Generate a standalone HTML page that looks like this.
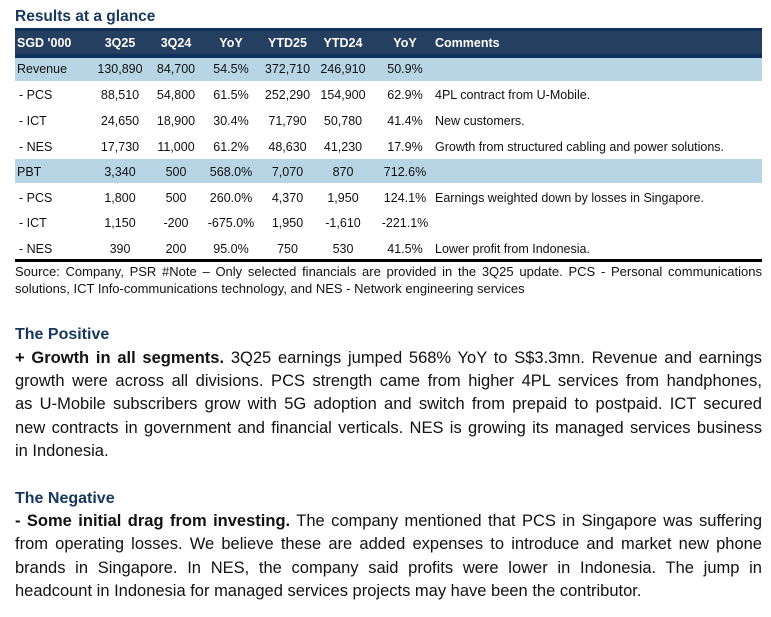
<!DOCTYPE html>
<html><head><meta charset="utf-8">
<style>
html,body{margin:0;padding:0;background:#fff;}
body{width:771px;height:617px;position:relative;overflow:hidden;font-family:"Liberation Sans",Arial,sans-serif;color:#111;}
.abs{position:absolute;}
.title{left:15px;top:9px;font-size:15.5px;font-weight:bold;color:#17375e;line-height:16px;white-space:nowrap;}
.hdr{left:15px;top:28px;width:747px;height:30px;background:#243f60;border-top:3px solid #0f2f5d;border-bottom:4px solid #0f2f5d;box-sizing:border-box;}
.band{left:15px;width:747px;background:#b8d5e6;}
.row{position:absolute;left:0;width:771px;height:24px;line-height:24px;font-size:12.5px;white-space:nowrap;}
.row span{position:absolute;top:0;}
.c{transform:translateX(-50%);}
.hrow{color:#fff;font-weight:bold;}
.rule{left:15px;top:259px;width:747px;height:3px;background:#000;}
.src{left:15px;width:747px;font-size:13px;line-height:17px;}
.j{text-align:justify;text-align-last:justify;}
.body{left:15px;width:747px;font-size:16.5px;line-height:23.33px;}
.body div{height:23.33px;}
.h{font-weight:bold;color:#17375e;font-size:16px;}
</style></head><body>

<div class="abs title">Results at a glance</div>
<div class="abs hdr"></div>
<div class="abs band" style="top:58px;height:23px;"></div>
<div class="abs band" style="top:159px;height:24px;"></div>

<div class="row hrow" style="top:31px;">
  <span style="left:17px;">SGD '000</span>
  <span class="c" style="left:120px;">3Q25</span>
  <span class="c" style="left:176px;">3Q24</span>
  <span class="c" style="left:231px;">YoY</span>
  <span class="c" style="left:287.5px;">YTD25</span>
  <span class="c" style="left:343px;">YTD24</span>
  <span class="c" style="left:405px;">YoY</span>
  <span style="left:435px;">Comments</span>
</div>

<div class="row" style="top:57px;">
  <span style="left:17px;">Revenue</span>
  <span class="c" style="left:120px;">130,890</span>
  <span class="c" style="left:176px;">84,700</span>
  <span class="c" style="left:231px;">54.5%</span>
  <span class="c" style="left:287.5px;">372,710</span>
  <span class="c" style="left:343px;">246,910</span>
  <span class="c" style="left:405px;">50.9%</span>
</div>
<div class="row" style="top:83px;">
  <span style="left:19px;">- PCS</span>
  <span class="c" style="left:120px;">88,510</span>
  <span class="c" style="left:176px;">54,800</span>
  <span class="c" style="left:231px;">61.5%</span>
  <span class="c" style="left:287.5px;">252,290</span>
  <span class="c" style="left:343px;">154,900</span>
  <span class="c" style="left:405px;">62.9%</span>
  <span style="left:435px;">4PL contract from U-Mobile.</span>
</div>
<div class="row" style="top:108.7px;">
  <span style="left:19px;">- ICT</span>
  <span class="c" style="left:120px;">24,650</span>
  <span class="c" style="left:176px;">18,900</span>
  <span class="c" style="left:231px;">30.4%</span>
  <span class="c" style="left:287.5px;">71,790</span>
  <span class="c" style="left:343px;">50,780</span>
  <span class="c" style="left:405px;">41.4%</span>
  <span style="left:435px;">New customers.</span>
</div>
<div class="row" style="top:134.7px;">
  <span style="left:19px;">- NES</span>
  <span class="c" style="left:120px;">17,730</span>
  <span class="c" style="left:176px;">11,000</span>
  <span class="c" style="left:231px;">61.2%</span>
  <span class="c" style="left:287.5px;">48,630</span>
  <span class="c" style="left:343px;">41,230</span>
  <span class="c" style="left:405px;">17.9%</span>
  <span style="left:435px;">Growth from structured cabling and power solutions.</span>
</div>
<div class="row" style="top:159.5px;">
  <span style="left:17px;">PBT</span>
  <span class="c" style="left:120px;">3,340</span>
  <span class="c" style="left:176px;">500</span>
  <span class="c" style="left:231px;">568.0%</span>
  <span class="c" style="left:287.5px;">7,070</span>
  <span class="c" style="left:343px;">870</span>
  <span class="c" style="left:405px;">712.6%</span>
</div>
<div class="row" style="top:186px;">
  <span style="left:19px;">- PCS</span>
  <span class="c" style="left:120px;">1,800</span>
  <span class="c" style="left:176px;">500</span>
  <span class="c" style="left:231px;">260.0%</span>
  <span class="c" style="left:287.5px;">4,370</span>
  <span class="c" style="left:343px;">1,950</span>
  <span class="c" style="left:405px;">124.1%</span>
  <span style="left:435px;">Earnings weighted down by losses in Singapore.</span>
</div>
<div class="row" style="top:211px;">
  <span style="left:19px;">- ICT</span>
  <span class="c" style="left:120px;">1,150</span>
  <span class="c" style="left:176px;">-200</span>
  <span class="c" style="left:231px;">-675.0%</span>
  <span class="c" style="left:287.5px;">1,950</span>
  <span class="c" style="left:343px;">-1,610</span>
  <span class="c" style="left:405px;">-221.1%</span>
</div>
<div class="row" style="top:236.5px;">
  <span style="left:19px;">- NES</span>
  <span class="c" style="left:120px;">390</span>
  <span class="c" style="left:176px;">200</span>
  <span class="c" style="left:231px;">95.0%</span>
  <span class="c" style="left:287.5px;">750</span>
  <span class="c" style="left:343px;">530</span>
  <span class="c" style="left:405px;">41.5%</span>
  <span style="left:435px;">Lower profit from Indonesia.</span>
</div>
<div class="abs rule"></div>

<div class="abs src" style="top:262.5px;">
  <div class="j">Source: Company, PSR #Note – Only selected financials are provided in the 3Q25 update. PCS - Personal communications</div>
  <div>solutions, ICT Info-communications technology, and NES - Network engineering services</div>
</div>

<div class="abs body" style="top:323.3px;">
  <div class="h">The Positive</div>
  <div class="j"><b>+ Growth in all segments.</b> 3Q25 earnings jumped 568% YoY to S$3.3mn. Revenue and earnings</div>
  <div class="j">growth were across all divisions. PCS strength came from higher 4PL services from handphones,</div>
  <div class="j">as U-Mobile subscribers grow with 5G adoption and switch from prepaid to postpaid. ICT secured</div>
  <div class="j">new contracts in government and financial verticals. NES is growing its managed services business</div>
  <div>in Indonesia.</div>
  <div></div>
  <div class="h">The Negative</div>
  <div class="j"><b>- Some initial drag from investing.</b> The company mentioned that PCS in Singapore was suffering</div>
  <div class="j">from operating losses. We believe these are added expenses to introduce and market new phone</div>
  <div class="j">brands in Singapore. In NES, the company said profits were lower in Indonesia. The jump in</div>
  <div>headcount in Indonesia for managed services projects may have been the contributor.</div>
</div>

</body></html>
